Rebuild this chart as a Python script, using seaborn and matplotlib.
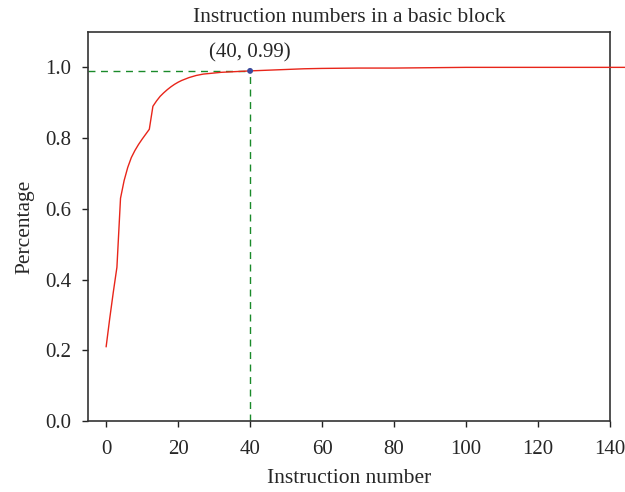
import matplotlib
matplotlib.use("Agg")
import matplotlib.pyplot as plt
import seaborn as sns
import pandas as pd

# Data
instr_x = [0, 1, 2, 3, 4, 5, 6, 7, 8, 9, 10, 11, 12, 13, 14, 15, 16, 17, 18, 19,
           20, 21, 22, 23, 24, 25, 26, 27, 28, 29, 30, 32, 34, 36, 38, 40,
           45, 50, 55, 60, 70, 80, 90, 100, 110, 120, 130, 140, 150]
pct_y = [0.21, 0.29, 0.365, 0.435, 0.63, 0.68, 0.717, 0.745, 0.765, 0.782,
         0.797, 0.811, 0.825, 0.89, 0.905, 0.918, 0.928, 0.937, 0.945, 0.952,
         0.958, 0.963, 0.967, 0.971, 0.974, 0.977, 0.979, 0.981, 0.982, 0.983,
         0.984, 0.986, 0.987, 0.988, 0.989, 0.99,
         0.992, 0.994, 0.996, 0.997, 0.998, 0.998, 0.999, 1.0, 1.0, 1.0, 1.0, 1.0, 1.0]
mark_x = [40]
mark_y = [0.99]
mark_label = "(40, 0.99)"
title = "Instruction numbers in a basic block"
xlabel = "Instruction number"
ylabel = "Percentage"

sns.set_style("ticks")
plt.rcParams['font.family'] = ['Liberation Serif', 'DejaVu Serif']

fig = plt.figure(figsize=(6.25, 4.92), dpi=100)
ax = fig.add_axes([0.141, 0.144, 0.835, 0.791])

df = pd.DataFrame({"x": instr_x, "y": pct_y})
sns.lineplot(data=df, x="x", y="y", ax=ax, color="#e8251a", linewidth=1.0,
             clip_on=False, zorder=3)

ax.set_xlim(-5, 140)
ax.set_ylim(0, 1.1)

# Guide lines
ax.plot([-5, mark_x[0]], [mark_y[0], mark_y[0]], ls=(0, (5, 4)), color="#1a8a2a", lw=1.0, zorder=2)
ax.plot([mark_x[0], mark_x[0]], [0, mark_y[0]], ls=(0, (5, 4)), color="#1a8a2a", lw=1.0, zorder=2)
sns.scatterplot(x=mark_x, y=mark_y, ax=ax, color="#3b4a9c", s=18, zorder=4, edgecolor="none")
ax.annotate(mark_label, xy=(mark_x[0], mark_y[0]), xytext=(0, 6), textcoords="offset points",
            ha="center", va="bottom", fontsize=15)

ax.set_xticks([0, 20, 40, 60, 80, 100, 120, 140])
ax.set_yticks([0.0, 0.2, 0.4, 0.6, 0.8, 1.0])
ax.set_yticklabels(["0.0", "0.2", "0.4", "0.6", "0.8", "1.0"])
ax.tick_params(labelsize=15, length=4, width=1, color="#222222")
ax.tick_params(axis="x", pad=9.5)
ax.tick_params(axis="y", pad=8)
ax.set_title(title, fontsize=15.5, pad=7)
ax.set_xlabel(xlabel, fontsize=15.5, labelpad=7)
ax.set_ylabel(ylabel, fontsize=15.5, labelpad=8)
for s in ax.spines.values():
    s.set_linewidth(1.2)
    s.set_color("#333333")

fig.savefig("out.png", dpi=100)
